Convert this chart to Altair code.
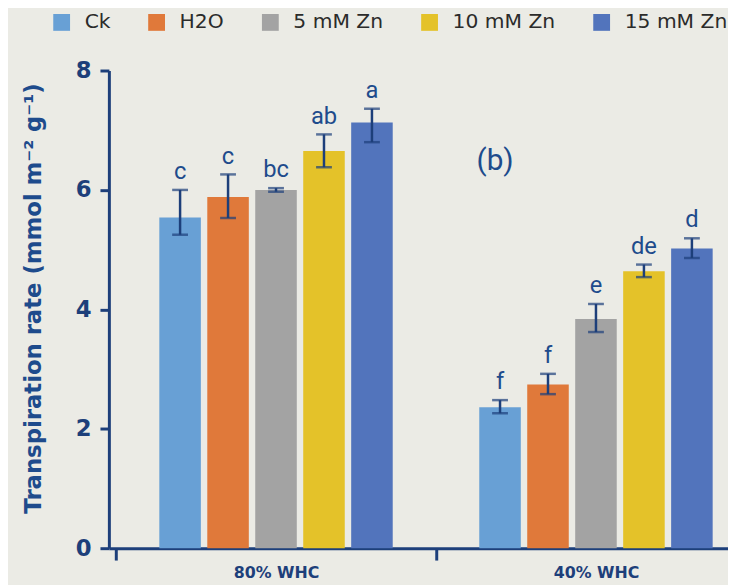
import altair as alt
import pandas as pd

groups = ["80% WHC", "40% WHC"]
treatments = ["Ck", "H2O", "5 mM Zn", "10 mM Zn", "15 mM Zn"]
colors = ["#68a0d5", "#e0793a", "#a3a3a3", "#e4c229", "#5274bc"]

mean_80 = [5.54, 5.88, 6.00, 6.65, 7.13]
low_80 = [5.25, 5.53, 5.97, 6.38, 6.80]
high_80 = [6.00, 6.26, 6.03, 6.93, 7.36]
letters_80 = ["c", "c", "bc", "ab", "a"]

mean_40 = [2.36, 2.74, 3.84, 4.64, 5.02]
low_40 = [2.26, 2.58, 3.62, 4.54, 4.86]
high_40 = [2.48, 2.92, 4.09, 4.75, 5.19]
letters_40 = ["f", "f", "e", "de", "d"]

panel_label = "(b)"
panel_label_y = 6.48

rows = []
for g, means, lows, highs, lets in [
    (groups[0], mean_80, low_80, high_80, letters_80),
    (groups[1], mean_40, low_40, high_40, letters_40),
]:
    for t, m, lo, hi, l in zip(treatments, means, lows, highs, lets):
        rows.append({"group": g, "treat": t, "mean": m, "low": lo, "high": hi, "letter": l})
df = pd.DataFrame(rows)

NAVY = "#1d3f7a"
LABEL_NAVY = "#1e4b8c"

x_enc = alt.X(
    "group:N",
    sort=groups,
    scale=alt.Scale(domain=groups, range=[0, 661.5], paddingInner=0, paddingOuter=0.0224),
    axis=alt.Axis(
        title=None,
        labelAngle=0,
        tickBand="extent",
        tickOffset=-5,
        tickSize=12,
        tickWidth=3,
        tickColor=NAVY,
        domainColor=NAVY,
        domainWidth=3,
        labelFont="DejaVu Sans",
        labelFontWeight="bold",
        labelFontSize=16,
        labelColor=NAVY,
        labelPadding=5,
    ),
)
xoff = alt.XOffset(
    "treat:N",
    sort=treatments,
    scale=alt.Scale(domain=treatments, paddingInner=0.134, paddingOuter=0.902),
)

y_scale = alt.Scale(domain=[0, 8], nice=False)

base = alt.Chart(df)

bars = base.mark_bar().encode(
    x=x_enc,
    xOffset=xoff,
    y=alt.Y(
        "mean:Q",
        scale=y_scale,
        axis=alt.Axis(
            title="Transpiration rate (mmol m\u207b\u00b2 g\u207b\u00b9)",
            values=[0, 2, 4, 6, 8],
            format="d",
            grid=False,
            tickSize=9,
            tickWidth=3,
            tickColor=NAVY,
            domainColor=NAVY,
            domainWidth=3,
            labelFont="DejaVu Sans",
            labelFontWeight="bold",
            labelFontSize=23,
            labelColor=NAVY,
            labelPadding=9,
            titleFont="DejaVu Sans",
            titleFontWeight="bold",
            titleFontSize=23,
            titleColor=LABEL_NAVY,
            titlePadding=30,
            titleY=230,
        ),
    ),
    color=alt.Color(
        "treat:N",
        sort=treatments,
        scale=alt.Scale(domain=treatments, range=colors),
        legend=alt.Legend(
            title=None,
            orient="none",
            direction="horizontal",
            legendX=-58,
            legendY=-59,
            symbolType="square",
            symbolSize=289,
            symbolStrokeWidth=0,
            labelFont="DejaVu Sans",
            labelFontSize=20.5,
            labelColor="#2b2b2b",
            labelOffset=13,
            columnPadding=36,
            padding=0,
        ),
    ),
)

err = base.mark_rule(color=NAVY, strokeWidth=2.5).encode(
    x=alt.X("group:N", sort=groups),
    xOffset=xoff,
    y=alt.Y("low:Q", scale=y_scale),
    y2="high:Q",
)
cap_lo = base.mark_tick(color=NAVY, size=16, thickness=2.5, orient="horizontal").encode(
    x=alt.X("group:N", sort=groups),
    xOffset=xoff,
    y=alt.Y("low:Q", scale=y_scale),
)
cap_hi = base.mark_tick(color=NAVY, size=16, thickness=2.5, orient="horizontal").encode(
    x=alt.X("group:N", sort=groups),
    xOffset=xoff,
    y=alt.Y("high:Q", scale=y_scale),
)
letters = base.mark_text(
    font="Roboto", fontSize=24, color=LABEL_NAVY, baseline="alphabetic", dy=-11
).encode(
    x=alt.X("group:N", sort=groups),
    xOffset=xoff,
    y=alt.Y("high:Q", scale=y_scale),
    text="letter:N",
)

ann_df = pd.DataFrame([{"group": groups[1], "treat": treatments[0], "y": panel_label_y, "t": panel_label}])
ann = alt.Chart(ann_df).mark_text(
    font="Roboto", fontSize=30, color=LABEL_NAVY, baseline="middle", dx=-5
).encode(
    x=alt.X("group:N", sort=groups),
    xOffset=xoff,
    y=alt.Y("y:Q", scale=y_scale),
    text="t:N",
)

chart = (
    alt.layer(bars, err, cap_lo, cap_hi, letters, ann)
    .properties(
        width=626,
        height=483,
        autosize=alt.AutoSizeParams(type="none"),
        padding={"left": 102, "top": 60, "right": 0, "bottom": 34},
        background="#ebebe5",
    )
    .configure_view(stroke=None)
)

chart.save("out.html", embed_options={"renderer": "svg", "actions": False})
